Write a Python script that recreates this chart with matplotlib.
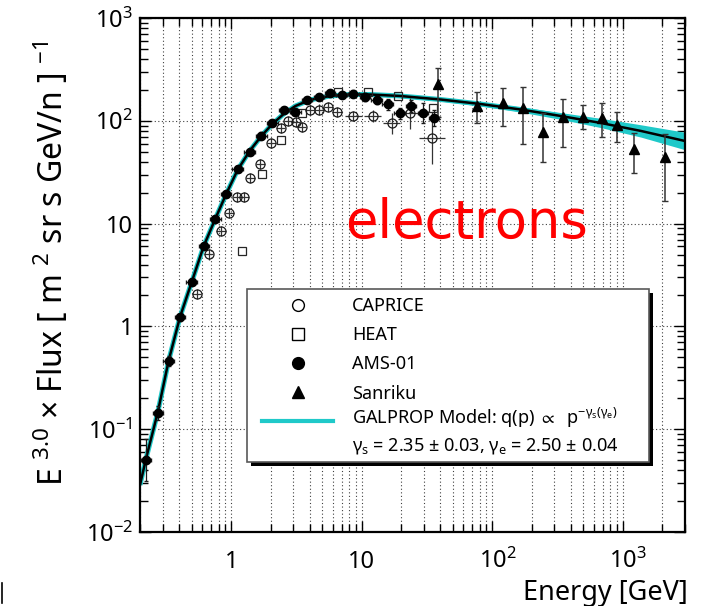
import matplotlib
matplotlib.use("Agg")
import matplotlib.pyplot as plt
import matplotlib.ticker as ticker
import matplotlib.transforms as mtransforms
from matplotlib.lines import Line2D
from matplotlib.patches import Rectangle
import numpy as np

plt.rcParams["font.family"] = ["Noto Sans", "DejaVu Sans"]
plt.rcParams["mathtext.fontset"] = "custom"
plt.rcParams["mathtext.rm"] = "Noto Sans"
plt.rcParams["mathtext.it"] = "Noto Sans:italic"
plt.rcParams["mathtext.bf"] = "Noto Sans:bold"
plt.rcParams["mathtext.fallback"] = "stixsans"

# AMS-01 electrons (energy GeV, E^3 flux), errors in dex
ams_e = [0.222, 0.274, 0.331, 0.405, 0.498, 0.616, 0.757, 0.915, 1.118, 1.383, 1.701, 2.067, 2.547,
         3.105, 3.815, 4.71, 5.70, 7.02, 8.62, 10.6, 13.0, 15.8, 19.5, 23.9, 29.4, 35.7]
ams_f = [0.0502, 0.144, 0.461, 1.226, 2.70, 6.06, 11.16, 19.4, 33.7, 49.7, 71.9, 94.6, 126.5,
         121.8, 159.3, 169.3, 186.4, 177.0, 183.5, 170.4, 159.3, 144.7, 118.3, 139.3, 119.1, 106.4]
ams_dex = [0.2, 0.07, 0.045, 0.035, 0.03, 0.03, 0.03, 0.03, 0.03, 0.03, 0.03, 0.03, 0.03,
           0.03, 0.03, 0.03, 0.03, 0.03, 0.035, 0.035, 0.04, 0.055, 0.055, 0.06, 0.1, 0.075]

# CAPRICE
cap_e = [0.544, 0.673, 0.835, 0.970, 1.112, 1.254, 1.403, 1.672, 2.024, 2.394, 2.735, 3.124,
         3.474, 4.003, 4.72, 5.53, 6.49, 8.61, 12.15, 17.0, 23.5, 34.4]
cap_f = [2.05, 5.01, 8.51, 12.68, 18.27, 18.27, 27.96, 38.0, 60.4, 85.1, 100.2, 98.0,
         87.0, 127.4, 128.8, 135.3, 122.6, 112.1, 112.1, 94.6, 118.3, 68.0]
cap_dex = [0.05, 0.05, 0.05, 0.05, 0.05, 0.05, 0.05, 0.05, 0.05, 0.05, 0.05, 0.05,
           0.05, 0.05, 0.05, 0.05, 0.05, 0.05, 0.06, 0.1, 0.15, 0.25]
cap_xdex = [0.035, 0.035, 0.035, 0.035, 0.035, 0.035, 0.035, 0.035, 0.035, 0.035, 0.035, 0.035,
            0.035, 0.035, 0.035, 0.035, 0.04, 0.065, 0.065, 0.065, 0.065, 0.1]

# HEAT
heat_e = [1.206, 1.72, 2.42, 3.46, 6.57, 11.08, 18.86, 34.9]
heat_f = [5.41, 30.4, 64.6, 117.8, 190.6, 191.9, 173.1, 132.3]

# Sanriku, with lower / upper error ends
san_e = [38.1, 76.7, 121.5, 172, 245, 345.6, 492, 689, 899, 1228, 2090]
san_f = [228, 140.3, 148.0, 134.1, 78.3, 108.2, 109.6, 105.8, 90.4, 53.2, 44.8]
san_hi = [324, 189.4, 207, 211.8, 118.3, 163, 142.5, 148, 121, 76.6, 74.4]
san_lo = [109.6, 95.8, 89.6, 59.5, 39.5, 56.0, 83.2, 69.1, 61.8, 30.9, 16.6]

# GALPROP model curve and its band half width (dex)
model_e = [0.2, 0.223, 0.274, 0.331, 0.405, 0.498, 0.616, 0.757, 0.915, 1.118, 1.383, 1.701, 2.067,
           2.547, 3.105, 4.00, 5.70, 8.13, 11.58, 19.7, 40.0, 81.3, 165, 335, 681, 1383, 3000]
model_f = [0.0287, 0.0524, 0.147, 0.461, 1.234, 2.70, 6.06, 11.21, 19.4, 33.2, 50.8, 71.1, 93.1,
           117.8, 139.3, 159.3, 174.3, 180.3, 180.3, 174.3, 161.2, 145.7, 128.8, 111.4, 95.2, 79.6, 63.6]
model_band = [0.01, 0.01, 0.01, 0.01, 0.01, 0.01, 0.01, 0.01, 0.01, 0.01, 0.01, 0.01, 0.01,
              0.01, 0.01, 0.01, 0.01, 0.01, 0.012, 0.013, 0.015, 0.02, 0.025, 0.033, 0.045, 0.06, 0.085]

x_ticks = [1, 10, 100, 1000]
x_tick_labels = ["1", "10", r"$10^{2}$", r"$10^{3}$"]

legend_labels = ["CAPRICE", "HEAT", "AMS-01", "Sanriku", ""]
model_text = r"GALPROP Model: q(p) $\propto$  p$^{-\mathrm{\gamma_{s}(\gamma_{e})}}$"
fit_text = r"$\mathrm{\gamma_{s}}$ = 2.35 $\pm$ 0.03, $\mathrm{\gamma_{e}}$ = 2.50 $\pm$ 0.04"

CYAN = "#1fc9c9"


def dex_err(vals, dex):
    vals = np.array(vals, dtype=float)
    dex = np.array(dex, dtype=float)
    return [vals - vals / 10**dex, vals * 10**dex - vals]


def ax_frac(px, py):
    # figure pixel (from top-left) -> axes fraction
    return (px - 140) / 545, (532 - py) / 514


def y_label_fmt(v, pos):
    n = int(round(np.log10(v)))
    if n == 0:
        return "1"
    if n == 1:
        return "10"
    return r"$10^{%d}$" % n


fig = plt.figure(figsize=(7.06, 6.06), dpi=100)
ax = fig.add_axes([140 / 706, 74 / 606, 545 / 706, 514 / 606])
ax.set_xscale("log")
ax.set_yscale("log")
ax.set_xlim(0.2, 3000)
ax.set_ylim(0.01, 1000)

# model: band, thick cyan, black centre line
mf = np.array(model_f)
mb = np.array(model_band)
ax.fill_between(model_e, mf / 10**mb, mf * 10**mb, color=CYAN, lw=0, zorder=2)
ax.plot(model_e, model_f, color=CYAN, lw=3.6, zorder=2, solid_capstyle="butt")
ax.plot(model_e, model_f, color="black", lw=1.8, zorder=3)

ax.errorbar(cap_e, cap_f, xerr=dex_err(cap_e, cap_xdex), yerr=dex_err(cap_f, cap_dex),
            fmt="o", ms=6.5, mfc="none", mec="0.1", mew=0.9, ecolor="0.2", elinewidth=0.9,
            capsize=0, zorder=4)
ax.plot(heat_e, heat_f, "s", ms=6.3, mfc="none", mec="0.15", mew=0.9, zorder=4)
ax.errorbar(ams_e, ams_f, xerr=dex_err(ams_e, [0.04] * len(ams_e)), yerr=dex_err(ams_f, ams_dex),
            fmt="o", ms=6, color="black", ecolor="0.1", elinewidth=0.9, capsize=1.2, zorder=5)
san_err = [np.array(san_f) - np.array(san_lo), np.array(san_hi) - np.array(san_f)]
ax.errorbar(san_e, san_f, yerr=san_err, fmt="^", ms=6.5, color="black", ecolor="0.2",
            elinewidth=1.1, capsize=2, zorder=5)

# axes, ticks, grid
for s in ax.spines.values():
    s.set_linewidth(1.6)
ax.set_axisbelow(True)
ax.grid(True, which="both", axis="x", ls=(0, (1, 2.2)), color="0.25", lw=0.8)
ax.grid(True, which="major", axis="y", ls=(0, (1, 2.2)), color="0.25", lw=0.8)
ax.xaxis.set_major_locator(ticker.FixedLocator(x_ticks))
ax.xaxis.set_minor_locator(ticker.LogLocator(base=10, subs=np.arange(2, 10), numticks=20))
ax.xaxis.set_minor_formatter(ticker.NullFormatter())
ax.yaxis.set_major_locator(ticker.LogLocator(base=10, numticks=10))
ax.yaxis.set_minor_locator(ticker.LogLocator(base=10, subs=np.arange(2, 10), numticks=20))
ax.yaxis.set_major_formatter(ticker.FuncFormatter(y_label_fmt))
ax.yaxis.set_minor_formatter(ticker.NullFormatter())
ax.tick_params(which="both", direction="in", top=True, right=True, width=1)
ax.tick_params(which="major", length=8)
ax.tick_params(which="minor", length=5.5)
ax.tick_params(axis="y", labelsize=17, pad=5)
ax.tick_params(axis="x", labelbottom=False)

# x tick labels by hand so the digits sit on one baseline, centred on "10"
fs_tick = 17
for v, lab in zip(x_ticks, x_tick_labels):
    if lab.startswith("$"):
        tr = mtransforms.offset_copy(ax.get_xaxis_transform(), fig=fig, x=-0.572 * fs_tick,
                                     y=-26, units="points")
        ax.text(v, 0, lab, transform=tr, ha="left", va="baseline", fontsize=fs_tick)
    else:
        tr = mtransforms.offset_copy(ax.get_xaxis_transform(), fig=fig, x=0, y=-26, units="points")
        ax.text(v, 0, lab, transform=tr, ha="center", va="baseline", fontsize=fs_tick)

ax.set_ylabel(r"E $^{3.0}$ $\times$ Flux [ m $^{2}$ sr s GeV/n ] $^{-1}$", fontsize=23)
ax.yaxis.set_label_coords(-0.127, 0.522)
ax.set_xlabel("Energy [GeV]", fontsize=19.5, ha="right", va="baseline")
ax.xaxis.set_label_coords(1.005, -0.1323)

tx, ty = ax_frac(345, 238)
ax.text(tx, ty, "electrons", color="red", fontsize=38, family="DejaVu Sans",
        transform=ax.transAxes, ha="left", va="baseline")

# legend box with black drop shadow
bx0, by1 = ax_frac(247, 462)
bx1, by0 = ax_frac(649, 289)
sx, sy = 4 / 545, 4 / 514
ax.add_patch(Rectangle((bx0 + sx, by1 - sy), bx1 - bx0, by0 - by1, transform=ax.transAxes,
                       facecolor="black", edgecolor="none", zorder=6))
ax.add_patch(Rectangle((bx0, by1), bx1 - bx0, by0 - by1, transform=ax.transAxes,
                       facecolor="white", edgecolor="0.35", lw=1.2, zorder=7))

handles = [
    Line2D([], [], ls="none", marker="o", ms=8.5, mfc="none", mec="black", mew=1),
    Line2D([], [], ls="none", marker="s", ms=8, mfc="none", mec="black", mew=1),
    Line2D([], [], ls="none", marker="o", ms=8.5, color="black"),
    Line2D([], [], ls="none", marker="^", ms=8.5, color="black"),
    Line2D([], [], color=CYAN, lw=3),
]
lx, ly = ax_frac(262, 297)
leg = ax.legend(handles, legend_labels, loc="upper left", bbox_to_anchor=(lx, ly), borderaxespad=0,
                borderpad=0, frameon=False, fontsize=13, handlelength=3.95, handletextpad=1.05,
                labelspacing=0.62)
leg.set_zorder(8)
mx, my = ax_frac(352, 424)
ax.text(mx, my, model_text, fontsize=13, transform=ax.transAxes, ha="left", va="baseline", zorder=8)
fx, fy = ax_frac(352, 450)
ax.text(fx, fy, fit_text, fontsize=13, transform=ax.transAxes, ha="left", va="baseline", zorder=8)

# stray mark at the lower left of the original picture
fig.add_artist(Line2D([1.5 / 706, 1.5 / 706], [1 - 603 / 606, 1 - 583 / 606], color="black",
                      lw=1.2, transform=fig.transFigure))

fig.savefig("out.png", dpi=100)
